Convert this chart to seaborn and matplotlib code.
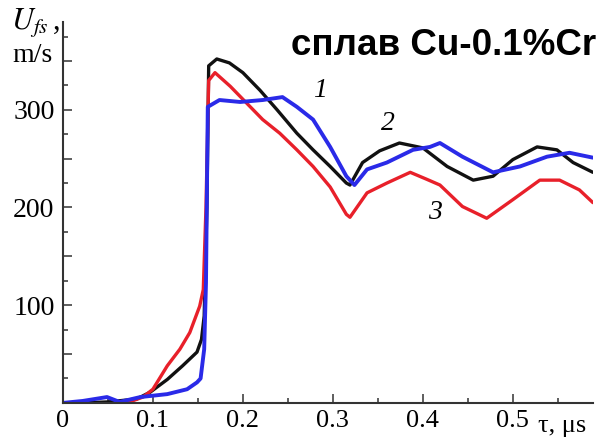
import numpy as np
import pandas as pd
import matplotlib
matplotlib.use("Agg")
import matplotlib.pyplot as plt
import seaborn as sns
from matplotlib.ticker import FixedLocator, MultipleLocator, FuncFormatter

# curve 1 (blue), curve 2 (black), curve 3 (red); tau in us, U_fs in m/s
t1 = [0, 0.022, 0.049, 0.063, 0.086, 0.116, 0.138, 0.149, 0.153, 0.157, 0.159, 0.161,
      0.174, 0.197, 0.222, 0.244, 0.26, 0.278, 0.297, 0.315, 0.324, 0.338, 0.36, 0.389,
      0.408, 0.419, 0.444, 0.478, 0.508, 0.538, 0.563, 0.589]
u1 = [0, 2, 6, 1, 6, 9, 14, 21, 25, 55, 123, 303,
      310, 308, 310, 313, 303, 290, 262, 232, 223, 239, 246, 259,
      262, 266, 252, 236, 242, 252, 256, 251]

t2 = [0.02, 0.05, 0.082, 0.097, 0.116, 0.133, 0.149, 0.154, 0.157, 0.160, 0.162, 0.171,
      0.185, 0.2, 0.219, 0.238, 0.26, 0.278, 0.297, 0.315, 0.319, 0.333, 0.352, 0.374,
      0.4, 0.427, 0.456, 0.478, 0.5, 0.527, 0.549, 0.567, 0.589]
u2 = [0, 1, 4, 11, 24, 38, 52, 65, 89, 200, 345, 352,
      348, 338, 320, 300, 276, 259, 242, 225, 223, 246, 258, 266,
      261, 242, 228, 232, 249, 262, 259, 246, 236]

t3 = [0.07, 0.074, 0.089, 0.1, 0.116, 0.13, 0.141, 0.152, 0.156, 0.159, 0.162, 0.169,
      0.186, 0.204, 0.222, 0.241, 0.26, 0.278, 0.297, 0.315, 0.319, 0.338, 0.36, 0.386,
      0.404, 0.419, 0.444, 0.471, 0.5, 0.53, 0.552, 0.574, 0.589]
u3 = [0, 1, 6, 14, 38, 55, 72, 99, 116, 200, 330, 338,
      324, 307, 290, 276, 259, 242, 221, 193, 190, 215, 225, 236,
      229, 223, 201, 189, 208, 228, 228, 218, 205]

curve_labels = ["1", "2", "3"]
label_pos = [(0.286, 320), (0.361, 286), (0.413, 195)]

sns.set_style("white")
plt.rcParams["font.family"] = ["Liberation Serif", "DejaVu Serif"]
plt.rcParams["mathtext.fontset"] = "stix"
plt.rcParams["text.color"] = "black"
plt.rcParams["xtick.color"] = "#333333"
plt.rcParams["ytick.color"] = "#333333"
plt.rcParams["xtick.labelcolor"] = "black"
plt.rcParams["ytick.labelcolor"] = "black"

fig = plt.figure(figsize=(6.05, 4.37), dpi=100)
ax = fig.add_axes([0.104, 0.078, 0.876, 0.872])

sns.lineplot(x=t2, y=u2, color="#111111", lw=2.4, ax=ax, sort=False, estimator=None)
sns.lineplot(x=t3, y=u3, color="#e8202a", lw=2.4, ax=ax, sort=False, estimator=None)
sns.lineplot(x=t1, y=u1, color="#2a2ae8", lw=2.8, ax=ax, sort=False, estimator=None)

ax.set_xlim(0, 0.589)
ax.set_ylim(0, 390)
for s in ["top", "right"]:
    ax.spines[s].set_visible(False)
for s in ["left", "bottom"]:
    ax.spines[s].set_linewidth(1.5)
    ax.spines[s].set_color("#333333")

ax.xaxis.set_major_locator(MultipleLocator(0.1))
ax.xaxis.set_minor_locator(MultipleLocator(0.05))
ax.xaxis.set_major_formatter(FuncFormatter(lambda v, p: "0" if abs(v) < 1e-9 else f"{v:.1f}"))
ax.yaxis.set_major_locator(FixedLocator([50, 100, 150, 200, 250, 300, 350]))
ax.yaxis.set_minor_locator(MultipleLocator(25))
ax.yaxis.set_major_formatter(FuncFormatter(lambda v, p: f"{int(v)}" if int(v) in (100, 200, 300) else ""))
ax.tick_params(which="both", bottom=True, left=True, top=False, right=False)
ax.tick_params(which="major", direction="in", length=6.5, width=1.1,
               labelsize=19, pad=5)
ax.tick_params(which="minor", direction="in", length=3.5, width=1.1)
ax.tick_params(axis="y", pad=6, labelsize=20)
ax.set_xlabel("")
ax.set_ylabel("")

for lab, (x, y) in zip(curve_labels, label_pos):
    ax.text(x, y, lab, fontsize=20, style="italic", ha="center", va="center")

fig.text(0.018, 0.935, r"$U_{fs}\,$,", fontsize=22, ha="left", va="baseline")
fig.text(0.02, 0.858, "m/s", fontsize=20, ha="left", va="baseline")
fig.text(0.889, 0.012, "τ, μs", fontsize=19, ha="left", va="baseline")
fig.text(0.985, 0.874, "сплав Cu-0.1%Cr", fontsize=26.5, fontweight="bold",
         family=["Liberation Sans", "DejaVu Sans"], ha="right", va="baseline")

fig.savefig("out.png", dpi=100)
